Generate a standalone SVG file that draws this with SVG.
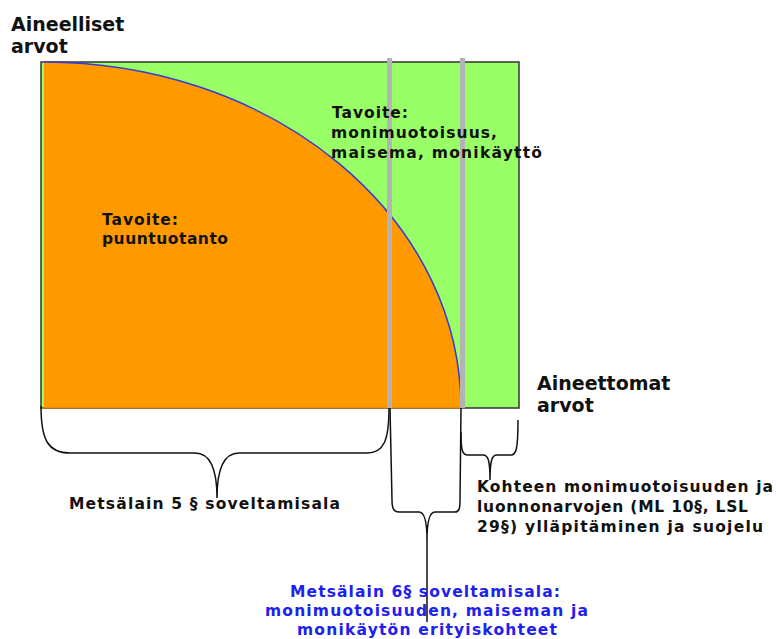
<svg xmlns="http://www.w3.org/2000/svg" width="776" height="639" viewBox="0 0 776 639">
<style>
text{font-family:"DejaVu Sans","Verdana","Liberation Sans",sans-serif;font-weight:bold;fill:#111;}
.h{font-size:19px;}
.b{font-size:15.5px;}
.blue{fill:#2121ee;}
.brace{fill:none;stroke:#111;stroke-width:1.5;}
.sep{stroke:#b3b3b3;stroke-width:5;}
</style>
<rect width="776" height="639" fill="#fff"/>
<g id="area">
<rect x="41" y="62" width="478" height="346" fill="#99ff66" stroke="#333" stroke-width="1.5"/>
<path d="M44,408 L44,62 A417,346 0 0 1 461,408 Z" fill="#ff9900"/>
<path d="M44,62 A417,346 0 0 1 461,408" fill="none" stroke="#3a3ad0" stroke-width="1.5"/>
<line x1="41" y1="408" x2="461" y2="408" stroke="#d98200" stroke-width="1.2"/>
<line class="sep" x1="389.5" y1="58" x2="389.5" y2="408"/>
<line class="sep" x1="462.5" y1="58" x2="462.5" y2="408"/>
</g>
<g id="connectors">
<path class="brace" d="M41,406 C41,440 48,453 70,453 L195,453 C211,453 217,470 217,498 C217,470 223,453 239,453 L367,453 C384,453 389,440 389,408"/>
<path class="brace" d="M390,408 L392,500 C392,509 394,512 399,512 L419,512 C425,512 427,522 427,540 L427,622 M427,540 C427,522 429,512 435,512 L455,512 C459,512 460,509 460,500 L461,408"/>
<path class="brace" d="M461,432 C461,450 462,455 468,455 L483,455 C488,455 490,460 490,480 C490,460 492,455 497,455 L511,455 C516,455 518,450 518,420"/>
</g>
<g id="label-aineelliset">
<text class="h" x="11" y="31">Aineelliset</text>
<text class="h" x="11" y="53">arvot</text>
</g>
<g id="label-aineettomat">
<text class="h" x="537" y="390">Aineettomat</text>
<text class="h" x="537" y="412">arvot</text>
</g>
<g id="goal-wood">
<text class="b" x="102" y="225" textLength="76" lengthAdjust="spacing">Tavoite:</text>
<text class="b" x="102" y="244" textLength="126" lengthAdjust="spacing">puuntuotanto</text>
</g>
<g id="goal-diversity">
<text class="b" x="332" y="118" textLength="76" lengthAdjust="spacing">Tavoite:</text>
<text class="b" x="331" y="138" textLength="166" lengthAdjust="spacing">monimuotoisuus,</text>
<text class="b" x="331" y="158" textLength="211" lengthAdjust="spacing">maisema, monikäyttö</text>
</g>
<g id="law5">
<text class="b" x="69" y="509" textLength="271" lengthAdjust="spacing">Metsälain 5 § soveltamisala</text>
</g>
<g id="protection">
<text class="b" x="477" y="492" textLength="296" lengthAdjust="spacing">Kohteen monimuotoisuuden ja</text>
<text class="b" x="477" y="512" textLength="271" lengthAdjust="spacing">luonnonarvojen (ML 10§, LSL</text>
<text class="b" x="477" y="532" textLength="286" lengthAdjust="spacing">29§) ylläpitäminen ja suojelu</text>
</g>
<g id="law6">
<text class="b blue" x="290" y="597" textLength="270" lengthAdjust="spacing">Metsälain 6§ soveltamisala:</text>
<text class="b blue" x="265" y="616" textLength="323" lengthAdjust="spacing">monimuotoisuuden, maiseman ja</text>
<text class="b blue" x="297" y="635" textLength="260" lengthAdjust="spacing">monikäytön erityiskohteet</text>
</g>
</svg>
